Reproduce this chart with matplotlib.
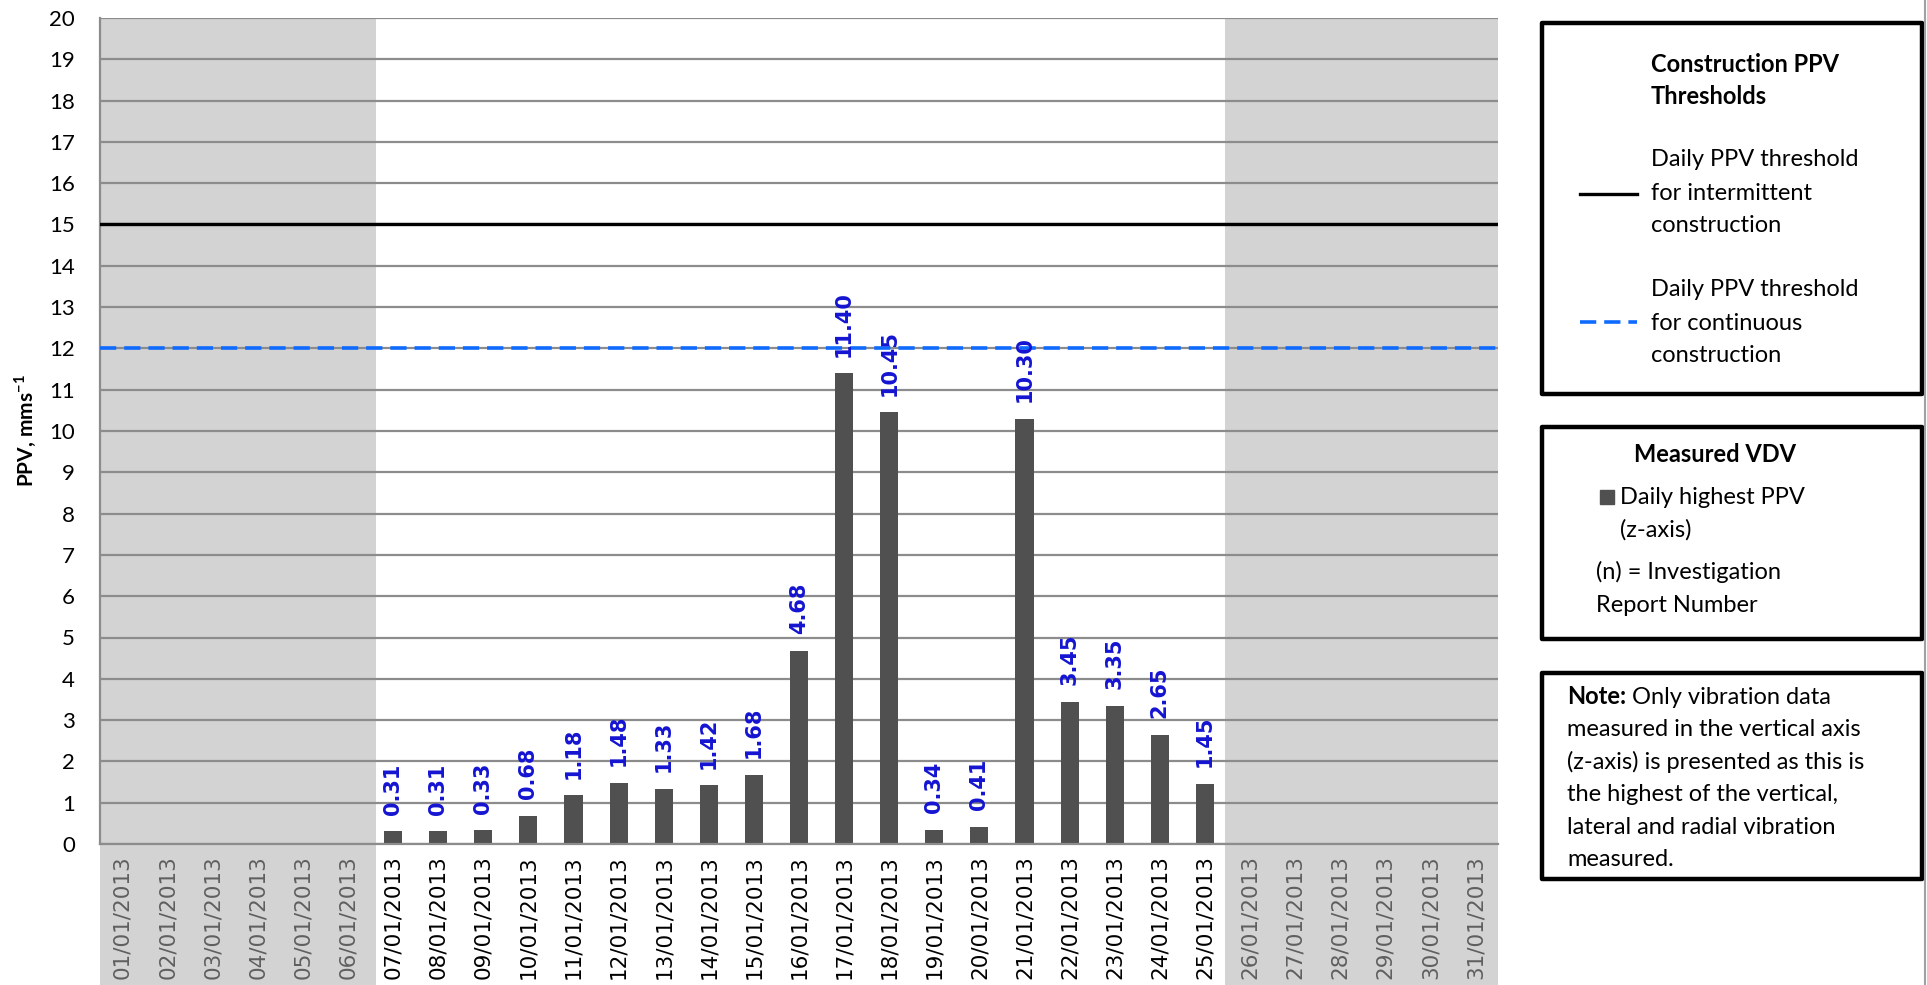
import numpy as np
import matplotlib
matplotlib.use("Agg")
import matplotlib.pyplot as plt
from matplotlib.patches import Rectangle
from matplotlib.lines import Line2D

# Data
days = [f"{d:02d}/01/2013" for d in range(1, 32)]
ppv_days = list(range(7, 26))
ppv_values = [0.31, 0.31, 0.33, 0.68, 1.18, 1.48, 1.33, 1.42, 1.68, 4.68,
              11.40, 10.45, 0.34, 0.41, 10.30, 3.45, 3.35, 2.65, 1.45]
intermittent_threshold = 15
continuous_threshold = 12
inactive_days = list(range(1, 7)) + list(range(26, 32))

plt.rcParams['font.family'] = ['Lato', 'DejaVu Sans']
plt.rcParams['mathtext.fontset'] = 'custom'
plt.rcParams['mathtext.bf'] = 'Lato:bold'
plt.rcParams['mathtext.rm'] = 'Lato'

W, H = 1927, 985
fig = plt.figure(figsize=(W / 100, H / 100), dpi=100)
ax = fig.add_axes([100 / W, 1 - 844 / H, (1498 - 100) / W, (844 - 18) / H])

bar_color = "#505050"
blue = "#0F6BFF"
label_blue = "#1414D2"

# shaded non-working periods (extend down into tick labels)
ax.axvspan(-0.5, 5.62, ymin=-0.25, ymax=1, color="#D3D3D3", lw=0, zorder=0, clip_on=False)
ax.axvspan(24.45, 30.5, ymin=-0.25, ymax=1, color="#D3D3D3", lw=0, zorder=0, clip_on=False)

x_pos = [d - 1 for d in ppv_days]
ax.bar(x_pos, ppv_values, width=0.4, color=bar_color, zorder=2)

for x, v in zip(x_pos, ppv_values):
    ax.annotate(f"{v:.2f}", (x, v), xytext=(0, 12), textcoords="offset points",
                rotation=90, ha="center", va="bottom", color=label_blue,
                fontsize=15, fontweight="bold", family="DejaVu Sans", zorder=5)

ax.axhline(intermittent_threshold, color="black", lw=2.4, zorder=4)
ax.axhline(continuous_threshold, color=blue, lw=2.6, dashes=(4.5, 2.2), zorder=4)

ax.set_xlim(-0.5, 30.5)
ax.set_ylim(0, 20)
ax.set_yticks(range(0, 21))
ax.yaxis.grid(True, color="#8C8C8C", lw=1.6)
ax.set_axisbelow(True)
for s in ["top", "right"]:
    ax.spines[s].set_visible(False)
ax.spines["left"].set_color("#8C8C8C")
ax.spines["bottom"].set_color("#8C8C8C")
ax.spines["left"].set_linewidth(1.6)
ax.spines["bottom"].set_linewidth(1.6)
ax.tick_params(axis="y", length=0, pad=18, labelsize=16)
ax.set_xticks(range(31))
ax.set_xticklabels(days)
ax.tick_params(axis="x", length=0, pad=8, labelsize=15.5, labelrotation=90,
               labelfontfamily="DejaVu Sans")
for i, lbl in enumerate(ax.get_xticklabels()):
    if (i + 1) in inactive_days:
        lbl.set_color("#5F5F5F")

ax.set_ylabel(r"PPV, mms$^{\mathbf{-1}}$", fontsize=15, fontweight="bold")
ax.yaxis.set_label_coords(-0.044, 0.5)

# legend boxes
def box(x0, y0, x1, y1):
    fig.patches.append(Rectangle((x0 / W, 1 - y1 / H), (x1 - x0) / W, (y1 - y0) / H,
                                 transform=fig.transFigure, fill=False, ec="black",
                                 lw=3.2, joinstyle="round"))

FS = 17

def ftext(x, y, s, **kw):
    return fig.text(x / W, 1 - y / H, s, va="center", fontsize=FS, **kw)

box(1542, 23, 1922, 394)
ftext(1651, 64, "Construction PPV", fontweight="bold")
ftext(1651, 97, "Thresholds", fontweight="bold")
fig.lines.append(Line2D([1580 / W, 1637 / W], [1 - 194 / H] * 2, transform=fig.transFigure,
                        color="black", lw=2.4))
for i, t in enumerate(["Daily PPV threshold", "for intermittent", "construction"]):
    ftext(1651, 160 + 33 * i, t)
fig.lines.append(Line2D([1580 / W, 1637 / W], [1 - 322 / H] * 2, transform=fig.transFigure,
                        color=blue, lw=2.6, dashes=(4.5, 2.2)))
for i, t in enumerate(["Daily PPV threshold", "for continuous", "construction"]):
    ftext(1651, 290 + 33 * i, t)

box(1542, 427, 1922, 639)
ftext(1715, 455, "Measured VDV", fontweight="bold", ha="center")
fig.patches.append(Rectangle((1600 / W, 1 - 504 / H), 14 / W, 14 / H,
                             transform=fig.transFigure, color=bar_color))
ftext(1620, 497, "Daily highest PPV")
ftext(1620, 530, "(z-axis)")
ftext(1596, 572, "(n) = Investigation")
ftext(1596, 605, "Report Number")

box(1542, 673, 1922, 879)
note = ["measured in the vertical axis", "(z-axis) is presented as this is",
        "the highest of the vertical,", "lateral and radial vibration", "measured."]
t = ftext(1567, 697, "Note:", fontweight="bold")
fig.canvas.draw()
bb = t.get_window_extent()
fig.text(bb.x1 / W + 0.003, 1 - 697 / H, "Only vibration data", va="center", fontsize=FS)
for i, s in enumerate(note):
    ftext(1567, 729 + 32.7 * i, s)

fig.lines.append(Line2D([1925 / W] * 2, [0, 1], transform=fig.transFigure, color="#A0A0A0", lw=1.5))

fig.savefig("out.png", dpi=100)
